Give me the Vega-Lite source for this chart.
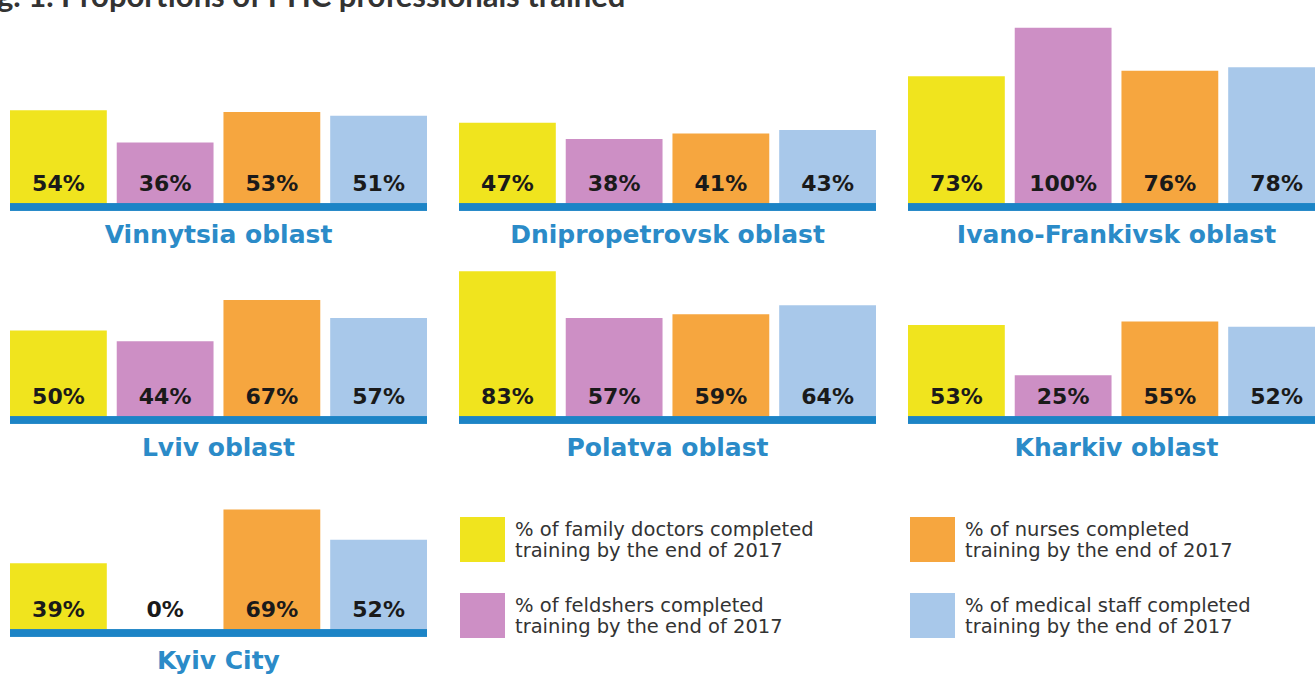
{
  "$schema": "https://vega.github.io/schema/vega-lite/v6.json",
  "padding": {"left": -29, "top": -19, "right": 0, "bottom": 0},
  "background": "white",
  "title": {
    "text": "Fig. 1. Proportions of PHC professionals trained",
    "anchor": "start",
    "dx": -35,
    "fontSize": 31,
    "font": "Lato",
    "fontWeight": "bold",
    "color": "#333333",
    "offset": 14
  },
  "data": {
    "values": [
      {"region": "Vinnytsia oblast", "category": "% of family doctors completed training by the end of 2017", "share": 0.54},
      {"region": "Vinnytsia oblast", "category": "% of feldshers completed training by the end of 2017", "share": 0.36},
      {"region": "Vinnytsia oblast", "category": "% of nurses completed training by the end of 2017", "share": 0.53},
      {"region": "Vinnytsia oblast", "category": "% of medical staff completed training by the end of 2017", "share": 0.51},
      {"region": "Dnipropetrovsk oblast", "category": "% of family doctors completed training by the end of 2017", "share": 0.47},
      {"region": "Dnipropetrovsk oblast", "category": "% of feldshers completed training by the end of 2017", "share": 0.38},
      {"region": "Dnipropetrovsk oblast", "category": "% of nurses completed training by the end of 2017", "share": 0.41},
      {"region": "Dnipropetrovsk oblast", "category": "% of medical staff completed training by the end of 2017", "share": 0.43},
      {"region": "Ivano-Frankivsk oblast", "category": "% of family doctors completed training by the end of 2017", "share": 0.73},
      {"region": "Ivano-Frankivsk oblast", "category": "% of feldshers completed training by the end of 2017", "share": 1.0},
      {"region": "Ivano-Frankivsk oblast", "category": "% of nurses completed training by the end of 2017", "share": 0.76},
      {"region": "Ivano-Frankivsk oblast", "category": "% of medical staff completed training by the end of 2017", "share": 0.78},
      {"region": "Lviv oblast", "category": "% of family doctors completed training by the end of 2017", "share": 0.50},
      {"region": "Lviv oblast", "category": "% of feldshers completed training by the end of 2017", "share": 0.44},
      {"region": "Lviv oblast", "category": "% of nurses completed training by the end of 2017", "share": 0.67},
      {"region": "Lviv oblast", "category": "% of medical staff completed training by the end of 2017", "share": 0.57},
      {"region": "Polatva oblast", "category": "% of family doctors completed training by the end of 2017", "share": 0.83},
      {"region": "Polatva oblast", "category": "% of feldshers completed training by the end of 2017", "share": 0.57},
      {"region": "Polatva oblast", "category": "% of nurses completed training by the end of 2017", "share": 0.59},
      {"region": "Polatva oblast", "category": "% of medical staff completed training by the end of 2017", "share": 0.64},
      {"region": "Kharkiv oblast", "category": "% of family doctors completed training by the end of 2017", "share": 0.53},
      {"region": "Kharkiv oblast", "category": "% of feldshers completed training by the end of 2017", "share": 0.25},
      {"region": "Kharkiv oblast", "category": "% of nurses completed training by the end of 2017", "share": 0.55},
      {"region": "Kharkiv oblast", "category": "% of medical staff completed training by the end of 2017", "share": 0.52},
      {"region": "Kyiv City", "category": "% of family doctors completed training by the end of 2017", "share": 0.39},
      {"region": "Kyiv City", "category": "% of feldshers completed training by the end of 2017", "share": 0.0},
      {"region": "Kyiv City", "category": "% of nurses completed training by the end of 2017", "share": 0.69},
      {"region": "Kyiv City", "category": "% of medical staff completed training by the end of 2017", "share": 0.52}
    ]
  },
  "facet": {
    "field": "region",
    "type": "nominal",
    "sort": ["Vinnytsia oblast", "Dnipropetrovsk oblast", "Ivano-Frankivsk oblast", "Lviv oblast", "Polatva oblast", "Kharkiv oblast", "Kyiv City"],
    "header": {
      "title": null,
      "labelOrient": "bottom",
      "labelFontSize": 25,
      "labelFont": "DejaVu Sans",
      "labelFontWeight": "bold",
      "labelColor": "#2b8bc8",
      "labelPadding": 12
    }
  },
  "columns": 3,
  "spacing": {"column": 24, "row": 0},
  "spec": {
    "width": 417,
    "height": 172,
    "layer": [
      {
        "mark": {"type": "bar"},
        "encoding": {
          "x": {
            "field": "category",
            "type": "nominal",
            "sort": [
              "% of family doctors completed training by the end of 2017",
              "% of feldshers completed training by the end of 2017",
              "% of nurses completed training by the end of 2017",
              "% of medical staff completed training by the end of 2017"
            ],
            "scale": {"paddingInner": 0.093, "paddingOuter": 0},
            "axis": null
          },
          "y": {
            "field": "share",
            "type": "quantitative",
            "scale": {"domain": [0, 0.96], "nice": false},
            "axis": null
          },
          "color": {
            "field": "category",
            "type": "nominal",
            "scale": {
              "domain": [
                "% of family doctors completed training by the end of 2017",
                "% of feldshers completed training by the end of 2017",
                "% of nurses completed training by the end of 2017",
                "% of medical staff completed training by the end of 2017"
              ],
              "range": ["#f0e41e", "#cd8fc5", "#f6a63f", "#a8c8ea"]
            },
            "legend": {
              "orient": "none",
              "legendX": 450,
              "legendY": 482,
              "columns": 2,
              "title": null,
              "symbolType": "square",
              "symbolSize": 2025,
              "symbolStrokeWidth": 0,
              "labelFont": "DejaVu Sans",
              "labelFontSize": 19.5,
              "labelColor": "#333333",
              "labelOffset": 10,
              "labelLimit": 400,
              "labelBaseline": "bottom",
              "columnPadding": 96,
              "rowPadding": 31,
              "labelExpr": "[replace(datum.label, ' training by the end of 2017', ''), 'training by the end of 2017']"
            }
          }
        }
      },
      {
        "mark": {"type": "rule", "color": "#1c84c6", "strokeWidth": 7},
        "encoding": {
          "y": {"datum": 0}
        }
      },
      {
        "mark": {"type": "text", "dy": -23, "font": "DejaVu Sans", "fontWeight": "bold", "fontSize": 22, "color": "#1a1a1a", "baseline": "middle"},
        "encoding": {
          "x": {
            "field": "category",
            "type": "nominal",
            "sort": [
              "% of family doctors completed training by the end of 2017",
              "% of feldshers completed training by the end of 2017",
              "% of nurses completed training by the end of 2017",
              "% of medical staff completed training by the end of 2017"
            ],
            "axis": null
          },
          "y": {"datum": 0},
          "text": {"field": "share", "type": "quantitative", "format": ".0%"}
        }
      }
    ]
  },
  "config": {"view": {"stroke": null}}
}
